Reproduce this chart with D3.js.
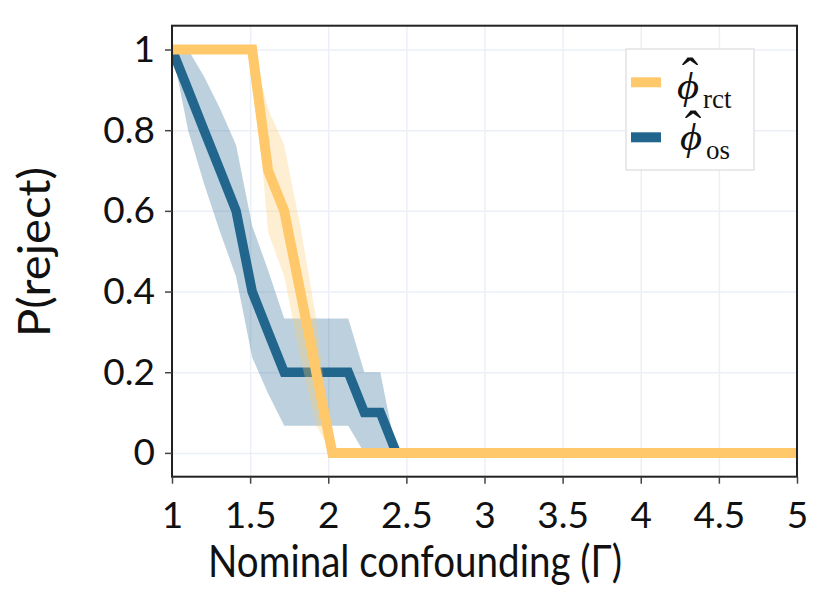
<!DOCTYPE html>
<html>
<head>
<meta charset="utf-8">
<script src="https://cdn.jsdelivr.net/npm/d3@7"></script>
<style>
  body { margin: 0; background: #fff; }
  .tick text { font-family: Lato, 'Noto Sans', sans-serif; font-size: 37px; fill: #111; }
  .titulo { font-family: Lato, 'Noto Sans', sans-serif; font-size: 44px; fill: #111; }
  .mat { font-family: 'Liberation Serif', 'DejaVu Serif', serif; fill: #111; }
</style>
</head>
<body>
<svg id="grafico"></svg>
<script>
// Gamma grid (nominal confounding)
var gama = [1.000, 1.103, 1.205, 1.308, 1.410, 1.513, 1.615, 1.718, 1.821, 1.923,
            2.026, 2.128, 2.231, 2.333, 2.436, 2.538, 2.641, 2.744, 2.846, 2.949,
            3.051, 3.154, 3.256, 3.359, 3.462, 3.564, 3.667, 3.769, 3.872, 3.974,
            4.077, 4.179, 4.282, 4.385, 4.487, 4.590, 4.692, 4.795, 4.897, 5.000];

// phi_rct: rejection rate and band
var rctMedia    = [1, 1, 1, 1, 1, 1, 0.7, 0.6, 0.4, 0.2, 0, 0, 0, 0, 0, 0, 0, 0, 0, 0,
                   0, 0, 0, 0, 0, 0, 0, 0, 0, 0, 0, 0, 0, 0, 0, 0, 0, 0, 0, 0];
var rctInferior = [1, 1, 1, 1, 1, 1, 0.547, 0.437, 0.237, 0.067, 0, 0, 0, 0, 0, 0, 0, 0, 0, 0,
                   0, 0, 0, 0, 0, 0, 0, 0, 0, 0, 0, 0, 0, 0, 0, 0, 0, 0, 0, 0];
var rctSuperior = [1, 1, 1, 1, 1, 1, 0.853, 0.763, 0.563, 0.333, 0, 0, 0, 0, 0, 0, 0, 0, 0, 0,
                   0, 0, 0, 0, 0, 0, 0, 0, 0, 0, 0, 0, 0, 0, 0, 0, 0, 0, 0, 0];

// phi_os: rejection rate and band
var osMedia    = [1, 0.9, 0.8, 0.7, 0.6, 0.4, 0.3, 0.2, 0.2, 0.2, 0.2, 0.2, 0.1, 0.1, 0, 0, 0, 0, 0, 0,
                  0, 0, 0, 0, 0, 0, 0, 0, 0, 0, 0, 0, 0, 0, 0, 0, 0, 0, 0, 0];
var osInferior = [1, 0.8, 0.667, 0.547, 0.437, 0.237, 0.147, 0.067, 0.067, 0.067, 0.067, 0.067, 0, 0, 0, 0, 0, 0, 0, 0,
                  0, 0, 0, 0, 0, 0, 0, 0, 0, 0, 0, 0, 0, 0, 0, 0, 0, 0, 0, 0];
var osSuperior = [1, 1, 0.933, 0.853, 0.763, 0.563, 0.453, 0.333, 0.333, 0.333, 0.333, 0.333, 0.2, 0.2, 0, 0, 0, 0, 0, 0,
                  0, 0, 0, 0, 0, 0, 0, 0, 0, 0, 0, 0, 0, 0, 0, 0, 0, 0, 0, 0];

var ticksX = [1, 1.5, 2, 2.5, 3, 3.5, 4, 4.5, 5];
var ticksY = [0, 0.2, 0.4, 0.6, 0.8, 1];

var corLaranja = '#ffc96b';
var corAzul = '#22668d';

var largura = 830, altura = 608;
var margem = { esquerda: 172, direita: 33, superior: 25.7, inferior: 131.3 };
var larguraPlotagem = largura - margem.esquerda - margem.direita;
var alturaPlotagem = altura - margem.superior - margem.inferior;

var svg = d3.select('#grafico')
            .attr('width', largura)
            .attr('height', altura);

var plotagem = svg.append('g')
                  .attr('transform', 'translate(' + margem.esquerda + ',' + margem.superior + ')');

var x = d3.scaleLinear().domain([1, 5]).range([0, larguraPlotagem]);
var y = d3.scaleLinear().domain([-0.059, 1.059]).range([alturaPlotagem, 0]);

plotagem.append('clipPath')
        .attr('id', 'recorte')
        .append('rect')
        .attr('width', larguraPlotagem)
        .attr('height', alturaPlotagem);

// grid lines
plotagem.append('g')
        .attr('class', 'grade')
        .call(d3.axisBottom(x).tickValues(ticksX).tickSize(alturaPlotagem).tickFormat(''))
        .call(g => g.select('.domain').remove());
plotagem.append('g')
        .attr('class', 'grade')
        .call(d3.axisRight(y).tickValues(ticksY).tickSize(larguraPlotagem).tickFormat(''))
        .call(g => g.select('.domain').remove());
plotagem.selectAll('.grade line')
        .attr('stroke', '#ebf0f8')
        .attr('stroke-width', 1.5);

// series
var series = [
  { media: osMedia, inf: osInferior, sup: osSuperior, cor: corAzul, espessura: 9.5 },
  { media: rctMedia, inf: rctInferior, sup: rctSuperior, cor: corLaranja, espessura: 10 }
];

var area = d3.area()
             .x((d, i) => x(gama[i]))
             .y0((d, i) => y(d.inf))
             .y1((d, i) => y(d.sup));
var linha = d3.line()
              .x((d, i) => x(gama[i]))
              .y(d => y(d));

var camada = plotagem.append('g').attr('clip-path', 'url(#recorte)');

series.forEach(function(s) {
  var faixa = gama.map((g, i) => ({ inf: s.inf[i], sup: s.sup[i] }));
  camada.append('path')
        .datum(faixa)
        .attr('d', area)
        .attr('fill', s.cor)
        .attr('fill-opacity', 0.3);
  camada.append('path')
        .datum(s.media)
        .attr('d', linha)
        .attr('fill', 'none')
        .attr('stroke', s.cor)
        .attr('stroke-width', s.espessura)
        .attr('stroke-linejoin', 'miter');
});

// frame
plotagem.append('rect')
        .attr('width', larguraPlotagem)
        .attr('height', alturaPlotagem)
        .attr('fill', 'none')
        .attr('stroke', '#222')
        .attr('stroke-width', 2);

// axes
var eixoX = plotagem.append('g')
        .attr('transform', 'translate(0,' + alturaPlotagem + ')')
        .call(d3.axisBottom(x).tickValues(ticksX).tickSize(7).tickPadding(18).tickFormat(d3.format('')));
var eixoY = plotagem.append('g')
        .call(d3.axisLeft(y).tickValues(ticksY).tickSize(7).tickPadding(10).tickFormat(d3.format('')));
[eixoX, eixoY].forEach(function(e) {
  e.select('.domain').remove();
  e.selectAll('.tick line').attr('stroke', '#444').attr('stroke-width', 1.5);
  e.selectAll('.tick text').attr('fill', '#111').attr('font-size', null).attr('font-family', null);
});

// axis titles
svg.append('text')
   .attr('class', 'titulo')
   .attr('x', 415)
   .attr('y', 577)
   .attr('text-anchor', 'middle')
   .attr('textLength', 414)
   .attr('lengthAdjust', 'spacingAndGlyphs')
   .text('Nominal confounding (Γ)');

svg.append('text')
   .attr('class', 'titulo')
   .attr('transform', 'translate(50,252) rotate(-90)')
   .attr('text-anchor', 'middle')
   .attr('textLength', 170)
   .attr('lengthAdjust', 'spacingAndGlyphs')
   .text('P(reject)');

// legend
var legenda = svg.append('g');
legenda.append('rect')
       .attr('x', 626).attr('y', 49)
       .attr('width', 128).attr('height', 121)
       .attr('fill', '#fff')
       .attr('stroke', '#e2e2e2')
       .attr('stroke-width', 1.5);

var itens = [
  { sub: 'rct', cor: corLaranja, yLinha: 82.3, base: 99, xPhi: 677, xSub: 703, topoChapeu: 58 },
  { sub: 'os',  cor: corAzul,    yLinha: 137.3, base: 150, xPhi: 680, xSub: 706, topoChapeu: 111 }
];
itens.forEach(function(it) {
  legenda.append('line')
         .attr('x1', 631).attr('x2', 661)
         .attr('y1', it.yLinha).attr('y2', it.yLinha)
         .attr('stroke', it.cor)
         .attr('stroke-width', 10);
  legenda.append('text')
         .attr('class', 'mat')
         .attr('transform', 'translate(' + it.xPhi + ',' + it.base + ') scale(1.12,1)')
         .attr('font-size', 38)
         .attr('font-style', 'italic')
         .text('ϕ');
  legenda.append('text')
         .attr('class', 'mat')
         .attr('x', it.xPhi + 13)
         .attr('y', it.topoChapeu + 35)
         .attr('font-size', 50)
         .attr('text-anchor', 'middle')
         .text('ˆ');
  legenda.append('text')
         .attr('class', 'mat')
         .attr('x', it.xSub).attr('y', it.base + 9)
         .attr('font-size', 27)
         .text(it.sub);
});
</script>
</body>
</html>
